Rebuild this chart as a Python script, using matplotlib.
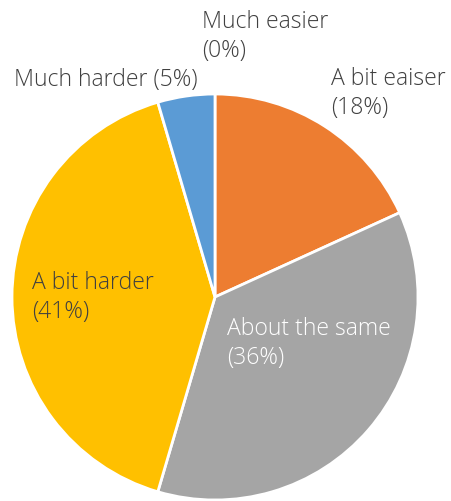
import matplotlib
matplotlib.use("Agg")
import matplotlib.pyplot as plt

plt.rcParams['font.family'] = ['Open Sans', 'DejaVu Sans']

categories = ["Much easier", "A bit eaiser", "About the same", "A bit harder", "Much harder"]
counts = [0, 4, 8, 9, 1]
colors = ["#4472C4", "#ED7D31", "#A5A5A5", "#FFC000", "#5B9BD5"]

W, H = 452, 501
fig = plt.figure(figsize=(W / 100, H / 100), dpi=100)

cx, cy, r = 215, 297, 203
ax = fig.add_axes([(cx - r) / W, (H - cy - r) / H, 2 * r / W, 2 * r / H])
ax.pie(counts, colors=colors, startangle=90, counterclock=False, radius=1,
       wedgeprops=dict(edgecolor="white", linewidth=2))
ax.set_xlim(-1, 1)
ax.set_ylim(-1, 1)
ax.set_aspect("equal")
ax.axis("off")

total = sum(counts)
pcts = [round(100 * c / total) for c in counts]

# label anchors in pixels (left, top)
label_pos = [(202, 10), (331, 67), (227, 317), (32, 271), (14, 68)]
label_col = ["#404040", "#404040", "white", "#404040", "#404040"]
for i, name in enumerate(categories):
    if name == "Much harder":
        txt = f"{name} ({pcts[i]}%)"
    else:
        txt = f"{name}\n({pcts[i]}%)"
    x, y = label_pos[i]
    fig.text(x / W, 1 - y / H, txt, ha="left", va="top", fontsize=16.6,
             fontweight="light", color=label_col[i], linespacing=1.28)

fig.savefig("out.png", dpi=100)
